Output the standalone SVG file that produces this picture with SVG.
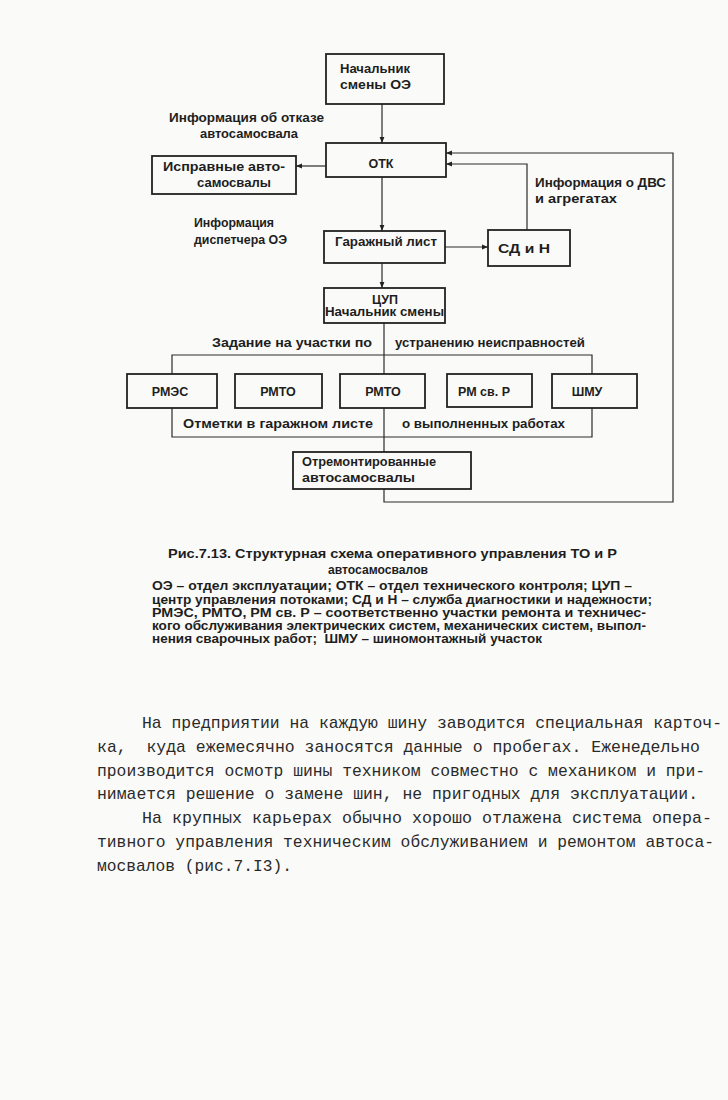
<svg xmlns="http://www.w3.org/2000/svg" width="728" height="1100" viewBox="0 0 728 1100">
<style>
.box{fill:none;stroke:#222;stroke-width:1.8}
.ln{fill:none;stroke:#2a2a2a;stroke-width:1.2}
.t{font-family:"Liberation Sans","DejaVu Sans",sans-serif;font-weight:bold;font-size:12.5px;fill:#1e1e1e}
.c{font-family:"Liberation Sans","DejaVu Sans",sans-serif;font-weight:bold;font-size:12px;fill:#1e1e1e}
.b{font-family:"Liberation Mono","DejaVu Sans Mono",monospace;font-size:16.2px;fill:#2a2a2a}
</style>
<defs>
<marker id="ah" viewBox="0 0 10 10" refX="10" refY="5" markerWidth="7" markerHeight="6" orient="auto" markerUnits="userSpaceOnUse">
<path d="M0,1 L10,5 L0,9 z" fill="#222"/>
</marker>
</defs>
<rect x="0" y="0" width="728" height="1100" fill="#fafaf8"/>

<g id="connectors">
<path class="ln" d="M382,104 V143" marker-end="url(#ah)"/>
<path class="ln" d="M382,177 V231" marker-end="url(#ah)"/>
<path class="ln" d="M382,263 V288" marker-end="url(#ah)"/>
<path class="ln" d="M326,166 H296" marker-end="url(#ah)"/>
<path class="ln" d="M445,247 H488" marker-end="url(#ah)"/>
<path class="ln" d="M527,230 V164 H446" marker-end="url(#ah)"/>
<path class="ln" d="M384,323 V374"/>
<path class="ln" d="M172,374 V355 H592 V374"/>
<path class="ln" d="M172,408 V437 H592 V408"/>
<path class="ln" d="M384,408 V452"/>
<path class="ln" d="M384,489 V502 H673 V153 H446" marker-end="url(#ah)"/>
</g>

<g id="nachalnik">
<rect class="box" x="326" y="54" width="118" height="50"/>
<text class="t" x="340" y="73" textLength="70" lengthAdjust="spacingAndGlyphs">Начальник</text>
<text class="t" x="340" y="89" textLength="71" lengthAdjust="spacingAndGlyphs">смены ОЭ</text>
</g>
<g id="otk">
<rect class="box" x="326" y="143" width="120" height="34"/>
<text class="t" x="381" y="168" font-size="14" text-anchor="middle">ОТК</text>
</g>
<g id="ispravnye">
<rect class="box" x="152" y="156" width="144" height="38"/>
<text class="t" x="163" y="171" textLength="122" lengthAdjust="spacingAndGlyphs">Исправные авто-</text>
<text class="t" x="197" y="187" textLength="74" lengthAdjust="spacingAndGlyphs">самосвалы</text>
</g>
<g id="garazh">
<rect class="box" x="324" y="231" width="121" height="32"/>
<text class="t" x="335" y="246" textLength="102" lengthAdjust="spacingAndGlyphs">Гаражный лист</text>
</g>
<g id="sdn">
<rect class="box" x="488" y="230" width="82" height="36"/>
<text class="t" x="498" y="253" textLength="52" lengthAdjust="spacingAndGlyphs">СД и Н</text>
</g>
<g id="cup">
<rect class="box" x="324" y="288" width="121" height="35"/>
<text class="t" x="385" y="304" text-anchor="middle">ЦУП</text>
<text class="t" x="325" y="316" textLength="119" lengthAdjust="spacingAndGlyphs">Начальник смены</text>
</g>
<g id="rmes">
<rect class="box" x="127" y="374" width="90" height="34"/>
<text class="t" x="170" y="396" font-size="13.5" text-anchor="middle">РМЭС</text>
</g>
<g id="rmto1">
<rect class="box" x="235" y="374" width="87" height="34"/>
<text class="t" x="278" y="396" font-size="13.5" text-anchor="middle">РМТО</text>
</g>
<g id="rmto2">
<rect class="box" x="340" y="374" width="85" height="34"/>
<text class="t" x="383" y="396" font-size="13.5" text-anchor="middle">РМТО</text>
</g>
<g id="rmsvr">
<rect class="box" x="447" y="374" width="85" height="33"/>
<text class="t" x="484" y="396" font-size="13" text-anchor="middle">РМ св. Р</text>
</g>
<g id="shmu">
<rect class="box" x="552" y="374" width="85" height="34"/>
<text class="t" x="587" y="396" font-size="13.5" text-anchor="middle">ШМУ</text>
</g>
<g id="otremont">
<rect class="box" x="293" y="452" width="178" height="37"/>
<text class="t" x="302" y="466" textLength="134" lengthAdjust="spacingAndGlyphs">Отремонтированные</text>
<text class="t" x="302" y="482" textLength="113" lengthAdjust="spacingAndGlyphs">автосамосвалы</text>
</g>

<g id="labels">
<text class="t" x="169" y="122" textLength="155" lengthAdjust="spacingAndGlyphs">Информация об отказе</text>
<text class="t" x="200" y="138" textLength="98" lengthAdjust="spacingAndGlyphs">автосамосвала</text>
<text class="t" x="194" y="227" textLength="80" lengthAdjust="spacingAndGlyphs">Информация</text>
<text class="t" x="194" y="244" textLength="93" lengthAdjust="spacingAndGlyphs">диспетчера ОЭ</text>
<text class="t" x="535" y="187" textLength="131" lengthAdjust="spacingAndGlyphs">Информация о ДВС</text>
<text class="t" x="535" y="203" textLength="82" lengthAdjust="spacingAndGlyphs">и агрегатах</text>
<text class="t" x="212" y="347" textLength="160" lengthAdjust="spacingAndGlyphs">Задание на участки по</text>
<text class="t" x="395" y="347" textLength="190" lengthAdjust="spacingAndGlyphs">устранению неисправностей</text>
<text class="t" x="183" y="428" textLength="190" lengthAdjust="spacingAndGlyphs">Отметки в гаражном листе</text>
<text class="t" x="402" y="428" textLength="163" lengthAdjust="spacingAndGlyphs">о выполненных работах</text>
</g>

<g id="caption">
<text class="c" x="168" y="558" textLength="449" lengthAdjust="spacingAndGlyphs">Рис.7.13. Структурная схема оперативного управления ТО и Р</text>
<text class="c" x="328" y="574" textLength="100" lengthAdjust="spacingAndGlyphs">автосамосвалов</text>
<text class="c" x="152" y="590" textLength="480" lengthAdjust="spacingAndGlyphs">ОЭ – отдел эксплуатации; ОТК – отдел технического контроля; ЦУП –</text>
<text class="c" x="152" y="604" textLength="500" lengthAdjust="spacingAndGlyphs">центр управления потоками; СД и Н – служба диагностики и надежности;</text>
<text class="c" x="152" y="617" textLength="494" lengthAdjust="spacingAndGlyphs">РМЭС, РМТО, РМ св. Р – соответственно участки ремонта и техничес-</text>
<text class="c" x="152" y="630" textLength="494" lengthAdjust="spacingAndGlyphs">кого обслуживания электрических систем, механических систем, выпол-</text>
<text class="c" x="152" y="643" textLength="390" lengthAdjust="spacingAndGlyphs" xml:space="preserve">нения сварочных работ;  ШМУ – шиномонтажный участок</text>
</g>

<g id="body">
<text class="b" x="142" y="728" textLength="580" lengthAdjust="spacingAndGlyphs">На предприятии на каждую шину заводится специальная карточ-</text>
<text class="b" x="97" y="752" textLength="603" lengthAdjust="spacingAndGlyphs" xml:space="preserve">ка,  куда ежемесячно заносятся данные о пробегах. Еженедельно</text>
<text class="b" x="97" y="776" textLength="608" lengthAdjust="spacingAndGlyphs">производится осмотр шины техником совместно с механиком и при-</text>
<text class="b" x="97" y="799" textLength="601" lengthAdjust="spacingAndGlyphs">нимается решение о замене шин, не пригодных для эксплуатации.</text>
<text class="b" x="142" y="823" textLength="570" lengthAdjust="spacingAndGlyphs">На крупных карьерах обычно хорошо отлажена система опера-</text>
<text class="b" x="97" y="847" textLength="617" lengthAdjust="spacingAndGlyphs">тивного управления техническим обслуживанием и ремонтом автоса-</text>
<text class="b" x="97" y="871" textLength="195" lengthAdjust="spacingAndGlyphs">мосвалов (рис.7.I3).</text>
</g>
</svg>
